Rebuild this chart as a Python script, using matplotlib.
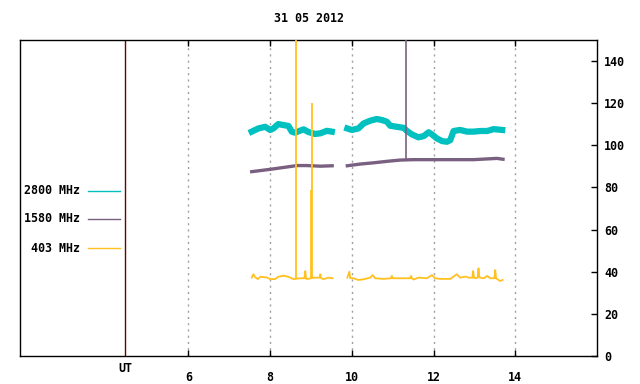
import matplotlib
matplotlib.use('Agg')
import matplotlib.pyplot as plt
from matplotlib.lines import Line2D

title = "31 05 2012"
labels = ["2800 MHz", "1580 MHz", "403 MHz"]
colors = ["#00c0c0", "#7a6080", "#ffc020"]
xticks = [6, 8, 10, 12, 14]
yticks = [0, 20, 40, 60, 80, 100, 120, 140]
ut_pos = 4.45

# 2800 MHz (two segments)
t2800_a = [7.55, 7.71, 7.88, 8.00, 8.08, 8.20, 8.33, 8.45, 8.53, 8.61, 8.82, 8.94, 9.10, 9.23, 9.39, 9.51]
v2800_a = [106.5, 108.0, 108.8, 107.3, 108.0, 110.1, 109.6, 109.2, 106.5, 106.0, 107.6, 106.3, 105.4, 105.7, 106.9, 106.5]
t2800_b = [9.89, 10.00, 10.16, 10.29, 10.45, 10.61, 10.74, 10.86, 10.94, 11.10, 11.27, 11.35, 11.47, 11.63,
           11.76, 11.88, 11.96, 12.08, 12.21, 12.33, 12.41, 12.49, 12.65, 12.82, 12.98, 13.14, 13.31, 13.47, 13.68]
v2800_b = [108.0, 107.3, 108.0, 110.4, 111.7, 112.5, 112.0, 111.2, 109.3, 108.8, 108.3, 106.8, 105.2, 103.8,
           104.4, 106.2, 105.2, 103.3, 102.0, 101.7, 102.5, 106.8, 107.3, 106.5, 106.5, 106.8, 106.8, 107.7, 107.3]

# 1580 MHz
t1580_a = [7.55, 8.00, 8.33, 8.66, 8.90, 9.23, 9.52]
v1580_a = [87.5, 88.6, 89.5, 90.4, 90.4, 90.1, 90.3]
t1580_b = [9.89, 10.20, 10.53, 10.86, 11.18, 11.51, 12.16, 12.98, 13.55, 13.70]
v1580_b = [90.3, 91.1, 91.7, 92.4, 93.0, 93.2, 93.2, 93.2, 93.8, 93.4]
t1580_spike = [11.32]
v1580_spike = [160]

# 403 MHz
t403_a = [7.55, 7.59, 7.63, 7.70, 7.76, 7.92, 8.00, 8.12, 8.20, 8.33, 8.45, 8.57, 8.74, 8.84, 8.86,
          8.88, 8.90, 9.08, 9.10, 9.21, 9.23, 9.25, 9.31, 9.43, 9.53]
v403_a = [37.2, 38.8, 37.5, 36.5, 37.6, 37.3, 36.5, 36.5, 37.6, 38.1, 37.6, 36.5, 36.9, 36.9, 40.3,
          36.9, 36.5, 37.2, 37.2, 37.2, 38.8, 36.9, 36.5, 37.2, 36.9]
t403_b = [9.89, 9.94, 9.96, 10.04, 10.16, 10.29, 10.45, 10.51, 10.57, 10.78, 10.96, 10.98, 11.00, 11.10,
          11.35, 11.43, 11.45, 11.47, 11.51, 11.63, 11.84, 11.96, 12.04, 12.16, 12.41, 12.49, 12.57,
          12.65, 12.78, 12.86, 12.95, 12.97, 12.99, 13.02, 13.08, 13.10, 13.12, 13.14, 13.23, 13.31,
          13.39, 13.49, 13.51, 13.53, 13.63, 13.69]
v403_b = [37.2, 40.0, 37.0, 36.9, 36.1, 36.4, 37.2, 38.4, 36.9, 36.6, 36.9, 38.0, 36.9, 36.9,
          36.9, 36.9, 38.0, 36.9, 36.3, 37.2, 36.9, 38.4, 36.9, 36.6, 36.6, 37.7, 38.8,
          37.2, 37.7, 37.2, 37.2, 40.3, 37.2, 36.9, 37.2, 41.6, 37.5, 37.2, 36.9, 38.0,
          36.9, 36.9, 40.8, 36.9, 35.6, 36.1]
t403_spike = [8.645, 9.01, 9.03]
v403_spike = [160, 79, 120]
base403 = 36.9

W, H = 640, 384
fig = plt.figure(figsize=(W / 100, H / 100), dpi=100)
ax = fig.add_axes([20 / W, 1 - 356 / H, 577 / W, 316 / H])

font = dict(family='DejaVu Sans Mono', weight='bold', size=8.4)

ax.set_xlim(1.88, 16.0)
ax.set_ylim(0, 150)

for x in xticks:
    ax.axvline(x, color='#a0a0a0', lw=1.0, linestyle=(0, (1.5, 3)), zorder=1)
ax.axvline(ut_pos, color='#700000', lw=1.0, zorder=1)

# 2800
ax.plot(t2800_a, v2800_a, color=colors[0], lw=4.5, solid_joinstyle='round', zorder=3)
ax.plot(t2800_b, v2800_b, color=colors[0], lw=4.5, solid_joinstyle='round', zorder=3)
# 1580
ax.plot(t1580_a, v1580_a, color=colors[1], lw=2.4, zorder=4)
ax.plot(t1580_b, v1580_b, color=colors[1], lw=2.4, zorder=4)
ax.vlines(t1580_spike, 93.0, v1580_spike, color=colors[1], lw=1.2, zorder=4)
# 403
ax.plot(t403_a, v403_a, color=colors[2], lw=1.3, zorder=5)
ax.plot(t403_b, v403_b, color=colors[2], lw=1.3, zorder=5)
ax.vlines(t403_spike, base403, v403_spike, color=colors[2], lw=1.3, zorder=5)

# axes styling
ax.set_xticks(xticks)
ax.set_xticklabels([str(x) for x in xticks], **font)
ax.tick_params(axis='x', direction='in', length=4, width=1, top=True, bottom=True, pad=11)
ax.yaxis.tick_right()
ax.set_yticks(yticks)
ax.set_yticklabels([str(y) for y in yticks], **font)
ax.tick_params(axis='y', direction='in', length=4, width=1, left=False, right=True, pad=5)
for s in ax.spines.values():
    s.set_linewidth(1.0)
    s.set_color('black')

# UT label
fig.text(125 / W, 1 - 368 / H, "UT", ha='center', va='center', **font)
# title
fig.text(308.5 / W, 1 - 18 / H, title, ha='center', va='center', **font)

# legend
leg_y = [191, 219, 248]
for lab, c, py in zip(labels, colors, leg_y):
    fig.text(80 / W, 1 - py / H, lab, ha='right', va='center', **font)
    fig.add_artist(Line2D([88 / W, 120 / W], [1 - py / H, 1 - py / H], color=c, lw=1.0,
                          transform=fig.transFigure))

fig.savefig('out.png', dpi=100)
